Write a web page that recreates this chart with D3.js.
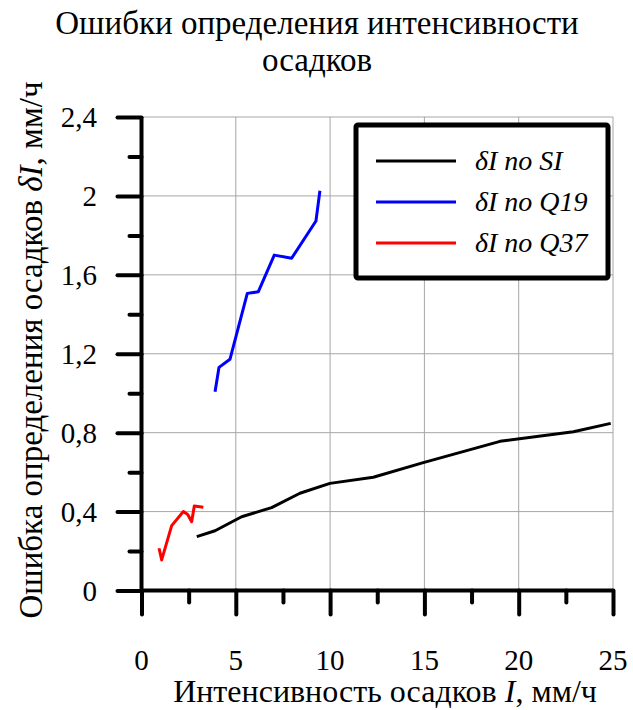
<!DOCTYPE html>
<html>
<head>
<meta charset="utf-8">
<script src="https://cdn.jsdelivr.net/npm/d3@7"></script>
<style>
  body { margin: 0; background: #fff; }
</style>
</head>
<body>
<script>
// data
var siX = [2.93, 3.90, 5.31, 6.90, 8.40, 9.99, 12.29, 14.94, 19.01, 22.90, 24.88];
var siY = [0.273, 0.303, 0.374, 0.420, 0.493, 0.543, 0.574, 0.648, 0.756, 0.805, 0.847];

var q19X = [3.90, 4.11, 4.69, 5.61, 6.19, 7.04, 7.96, 9.25, 9.46];
var q19Y = [1.007, 1.131, 1.172, 1.506, 1.514, 1.700, 1.684, 1.873, 2.026];

var q37X = [0.93, 1.07, 1.60, 2.22, 2.45, 2.66, 2.80, 3.28];
var q37Y = [0.214, 0.155, 0.329, 0.400, 0.385, 0.349, 0.428, 0.422];

var xTicks = [0, 5, 10, 15, 20, 25];
var yTicks = [0, 0.4, 0.8, 1.2, 1.6, 2.0, 2.4];
var yTickLabels = ["0", "0,4", "0,8", "1,2", "1,6", "2", "2,4"];
var seriesNames = ["SI", "Q19", "Q37"];
var seriesColors = ["#000000", "#0000ff", "#ff0000"];

var width = 633, height = 710;
var plotLeft = 141.5, plotRight = 613, plotTop = 117, plotBottom = 590.5;
var serif = "'Liberation Serif', 'Times New Roman', serif";

var svg = d3.select("body").append("svg")
  .attr("width", width)
  .attr("height", height)
  .attr("font-family", serif);

var x = d3.scaleLinear().domain([0, 25]).range([plotLeft, plotRight]);
var y = d3.scaleLinear().domain([0, 2.4]).range([plotBottom, plotTop]);

// gridlines
svg.append("g").selectAll("line")
  .data(xTicks.slice(1))
  .enter().append("line")
  .attr("x1", function (d) { return x(d); })
  .attr("x2", function (d) { return x(d); })
  .attr("y1", plotTop).attr("y2", plotBottom)
  .style("stroke", "#a6a6a6").style("stroke-width", 1);

svg.append("g").selectAll("line")
  .data(yTicks.slice(1))
  .enter().append("line")
  .attr("x1", plotLeft).attr("x2", plotRight)
  .attr("y1", function (d) { return y(d); })
  .attr("y2", function (d) { return y(d); })
  .style("stroke", "#a6a6a6").style("stroke-width", 1);

// axes
var xAxis = d3.axisBottom(x)
  .tickValues(d3.range(0, 25.1, 2.5))
  .tickSize(12)
  .tickFormat("");
var gx = svg.append("g").attr("transform", "translate(0," + plotBottom + ")").call(xAxis);
gx.selectAll(".tick line")
  .attr("y2", function (d) { return d % 5 === 0 ? 24 : 12; })
  .style("stroke-width", 4).style("stroke-linecap", "round");
gx.select(".domain").attr("d", "M" + plotLeft + ",0H" + plotRight).style("stroke-width", 4);

var yAxis = d3.axisLeft(y)
  .tickValues(d3.range(0, 2.41, 0.2))
  .tickSize(12)
  .tickFormat("");
var gy = svg.append("g").attr("transform", "translate(" + plotLeft + ",0)").call(yAxis);
gy.selectAll(".tick line")
  .attr("x2", function (d) { return Math.abs(d / 0.4 - Math.round(d / 0.4)) < 1e-6 ? -24 : -12; })
  .style("stroke-width", 4).style("stroke-linecap", "round");
gy.select(".domain").attr("d", "M0," + plotTop + "V" + plotBottom).style("stroke-width", 4);

// tick labels
svg.append("g").selectAll("text")
  .data(xTicks)
  .enter().append("text")
  .attr("x", function (d) { return x(d); })
  .attr("y", 670)
  .attr("text-anchor", "middle")
  .style("font-family", serif)
  .style("font-size", "29px")
  .text(function (d) { return d; });

svg.append("g").selectAll("text")
  .data(yTicks)
  .enter().append("text")
  .attr("x", 97)
  .attr("y", function (d) { return y(d) + 10; })
  .attr("text-anchor", "end")
  .style("font-family", serif)
  .style("font-size", "29px")
  .text(function (d, i) { return yTickLabels[i]; });

// lines
var line = d3.line()
  .x(function (d) { return x(d[0]); })
  .y(function (d) { return y(d[1]); });

var series = [d3.zip(siX, siY), d3.zip(q19X, q19Y), d3.zip(q37X, q37Y)];
series.forEach(function (s, i) {
  svg.append("path")
    .attr("d", line(s))
    .style("fill", "none")
    .style("stroke", seriesColors[i])
    .style("stroke-width", 3)
    .style("stroke-linejoin", "round");
});

// legend
var lg = svg.append("g");
lg.append("rect")
  .attr("x", 356).attr("y", 125)
  .attr("width", 252).attr("height", 153)
  .attr("rx", 2)
  .style("fill", "#fff").style("stroke", "#000").style("stroke-width", 5);
seriesNames.forEach(function (n, i) {
  var ly = 161 + i * 41;
  lg.append("line")
    .attr("x1", 376).attr("x2", 456)
    .attr("y1", ly).attr("y2", ly)
    .style("stroke", seriesColors[i]).style("stroke-width", 3);
  lg.append("text")
    .attr("x", 475).attr("y", ly + 9)
    .style("font-family", serif)
    .style("font-size", "28px").style("font-style", "italic")
    .text("\u03b4I по " + n);
});

// title
var title = svg.append("text")
  .attr("text-anchor", "middle")
  .style("font-family", serif)
  .style("font-size", "33px");
title.append("tspan").attr("x", 317).attr("y", 34).text("Ошибки определения интенсивности");
title.append("tspan").attr("x", 317).attr("y", 71).text("осадков");

// axis titles
var xt = svg.append("text")
  .attr("x", 385).attr("y", 702)
  .attr("text-anchor", "middle")
  .style("font-family", serif)
  .style("font-size", "32px");
xt.append("tspan").text("Интенсивность осадков ");
xt.append("tspan").style("font-style", "italic").text("I");
xt.append("tspan").text(", мм/ч");

var yt = svg.append("text")
  .attr("transform", "translate(42,350) rotate(-90)")
  .attr("text-anchor", "middle")
  .style("font-family", serif)
  .style("font-size", "33px");
yt.append("tspan").text("Ошибка определения осадков ");
yt.append("tspan").style("font-style", "italic").text("\u03b4I");
yt.append("tspan").text(", мм/ч");
</script>
</body>
</html>
